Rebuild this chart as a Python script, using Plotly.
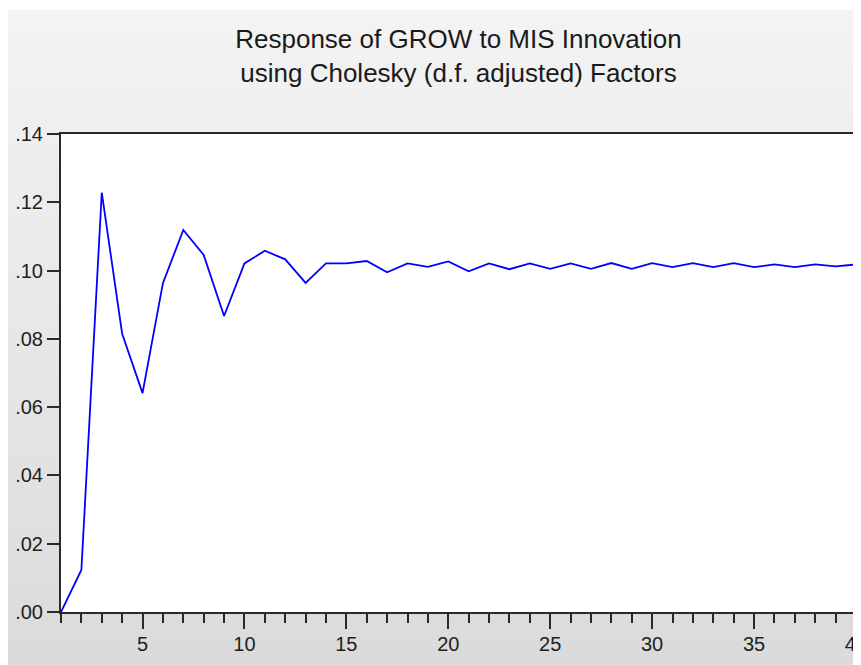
import plotly.graph_objects as go

# ---- data ----
periods = list(range(1, 41))
response = [0.0000, 0.0123, 0.1228, 0.0815, 0.0641, 0.0963, 0.1119, 0.1046, 0.0867, 0.1021,
            0.1058, 0.1033, 0.0964, 0.1021, 0.1021, 0.1028, 0.0995, 0.1021, 0.1011, 0.1027,
            0.0998, 0.1021, 0.1004, 0.1021, 0.1005, 0.1021, 0.1005, 0.1022, 0.1005, 0.1022,
            0.1010, 0.1022, 0.1010, 0.1022, 0.1010, 0.1018, 0.1010, 0.1018, 0.1012, 0.1018]
y_tick_vals = [0.00, 0.02, 0.04, 0.06, 0.08, 0.10, 0.12, 0.14]
y_tick_labels = [".00", ".02", ".04", ".06", ".08", ".10", ".12", ".14"]
x_tick_vals = [5, 10, 15, 20, 25, 30, 35, 40]
x_tick_labels = ["5", "10", "15", "20", "25", "30", "35", "40"]
title_lines = ["Response of GROW to MIS Innovation", "using Cholesky (d.f. adjusted) Factors"]

# ---- layout geometry (pixels, figure sits at an 8px page offset) ----
W, H = 853, 657
L, R, T, B = 53, 5, 126, 53
pw, ph = W - L - R, H - T - B

def px_x(x):
    return (x - L) / pw

def px_y(y):
    return (H - B - y) / ph

fig = go.Figure()
fig.add_trace(go.Scatter(x=periods, y=response, mode="lines",
                         line=dict(color="#0000ff", width=1.8),
                         hoverinfo="x+y", showlegend=False))

# gray gradient background panel
shapes = []
top_px, bot_px = 2, H
c_top, c_bot = 243, 219
n = c_top - c_bot + 1
band = (bot_px - top_px) / n
for i in range(n):
    g = round(c_top - (c_top - c_bot) * i / (n - 1))
    y0 = top_px + i * band
    y1 = y0 + band + 0.6
    shapes.append(dict(type="rect", xref="paper", yref="paper",
                       x0=px_x(-2), x1=px_x(W + 2), y0=px_y(min(y1, H + 2)), y1=px_y(y0),
                       fillcolor=f"rgb({g},{g},{g})", line=dict(width=0), layer="below"))
shapes.append(dict(type="rect", xref="paper", yref="paper", x0=0, x1=1, y0=0, y1=1,
                   fillcolor="white", line=dict(width=0), layer="below"))

axis_common = dict(showgrid=False, zeroline=False, showline=True, linecolor="#2a2a2a",
                   linewidth=2, mirror=True, ticks="outside", tickcolor="#2a2a2a",
                   tickwidth=2, automargin=False,
                   tickfont=dict(family="Liberation Sans, Arial, sans-serif", size=20, color="#1e1e1e"))

fig.update_layout(
    width=W, height=H,
    margin=dict(l=L, r=R, t=T, b=B, pad=0, autoexpand=False),
    paper_bgcolor="white", plot_bgcolor="white",
    shapes=shapes,
    title=dict(text="<br>".join(title_lines), x=0.5, xref="paper", xanchor="center",
               y=1 - 40 / H, yref="container", yanchor="top", automargin=False,
               font=dict(family="Liberation Sans, Arial, sans-serif", size=26, color="#1a1a1a")),
    xaxis=dict(range=[1, 40.002], tickvals=x_tick_vals, ticktext=x_tick_labels, ticklen=15,
               ticklabelstandoff=-2, ticklabeloverflow="allow",
               minor=dict(dtick=1, tick0=1, ticklen=9, ticks="outside", tickcolor="#2a2a2a",
                          tickwidth=2, showgrid=False),
               **axis_common),
    yaxis=dict(range=[0, 0.14], tickvals=y_tick_vals, ticktext=y_tick_labels, ticklen=12,
               **axis_common),
)

fig.write_html("out.html")
